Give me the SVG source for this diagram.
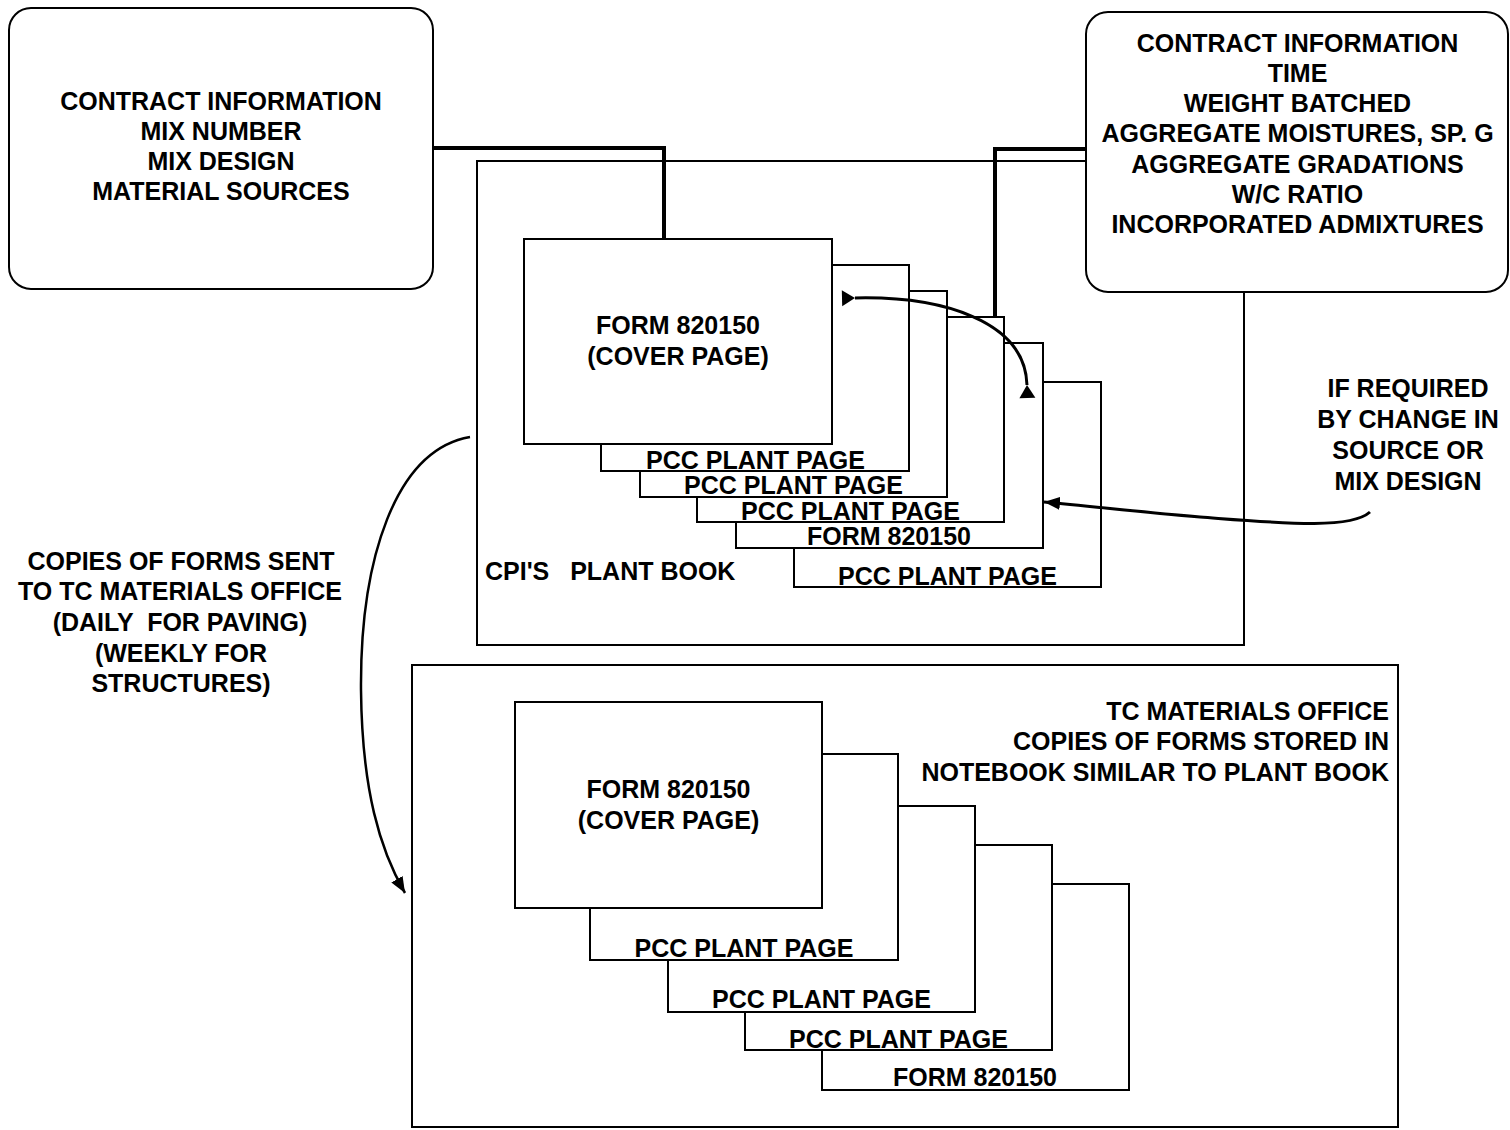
<svg xmlns="http://www.w3.org/2000/svg" width="1510" height="1130" viewBox="0 0 1510 1130">
  <style>
    .box { fill: #fff; stroke: #000; stroke-width: 2; }
    .frame { fill: none; stroke: #000; stroke-width: 2; }
    .page { fill: #fff; stroke: #000; stroke-width: 2; }
    .lbl { font-family: "Liberation Sans", Arial, Helvetica, sans-serif; font-weight: bold; font-size: 25px; fill: #000; }
    .c { text-anchor: middle; }
    .r { text-anchor: end; }
    .pre { white-space: pre; }
    .feed { fill: none; stroke: #000; stroke-width: 4; }
    .curve { fill: none; stroke: #000; stroke-width: 2.5; }
    .heavy { stroke-width: 3; }
  </style>
  <defs>
    <marker id="arrow" markerUnits="userSpaceOnUse" markerWidth="17" markerHeight="13" refX="16" refY="6.5" orient="auto">
      <path d="M0,0 L16,6.5 L0,13 Z" fill="#000"/>
    </marker>
    <!-- triangle whose base sits beyond the line end, apex on the line -->
    <marker id="tab" markerUnits="userSpaceOnUse" markerWidth="15" markerHeight="18" refX="0" refY="9" orient="auto-start-reverse">
      <path d="M0,9 L13,1 L13,17 Z" fill="#000"/>
    </marker>
  </defs>

  <rect width="1510" height="1130" fill="#fff"/>

  <!-- CPI's plant book -->
  <g id="plant-book">
    <rect class="frame" x="477" y="161" width="767" height="484"/>
    <text class="lbl pre" x="485" y="580">CPI'S   PLANT BOOK</text>
  </g>

  <!-- pages inside the plant book, back to front -->
  <g id="plant-page-6">
    <rect class="page" x="794" y="382" width="307" height="205"/>
    <text class="lbl c" x="947.5" y="585">PCC PLANT PAGE</text>
  </g>
  <g id="plant-page-5">
    <rect class="page" x="736" y="343" width="307" height="205"/>
    <text class="lbl c" x="889" y="545">FORM 820150</text>
  </g>
  <g id="plant-page-4">
    <rect class="page" x="697" y="317" width="307" height="205"/>
    <text class="lbl c" x="850.5" y="520">PCC PLANT PAGE</text>
  </g>
  <g id="plant-page-3">
    <rect class="page" x="640" y="291" width="307" height="206"/>
    <text class="lbl c" x="793.5" y="494">PCC PLANT PAGE</text>
  </g>
  <g id="plant-page-2">
    <rect class="page" x="601" y="265" width="308" height="206"/>
    <text class="lbl c" x="755.5" y="469">PCC PLANT PAGE</text>
  </g>
  <g id="plant-cover">
    <rect class="page" x="524" y="239" width="308" height="205"/>
    <text class="lbl c" x="678" y="334">FORM 820150</text>
    <text class="lbl c" x="678" y="365">(COVER PAGE)</text>
  </g>

  <!-- mix information -->
  <g id="mix-info">
    <rect class="box" x="9" y="8" width="424" height="281" rx="22"/>
    <text class="lbl c" x="221" y="110">CONTRACT INFORMATION</text>
    <text class="lbl c" x="221" y="140">MIX NUMBER</text>
    <text class="lbl c" x="221" y="170">MIX DESIGN</text>
    <text class="lbl c" x="221" y="200">MATERIAL SOURCES</text>
  </g>

  <!-- batch information -->
  <g id="batch-info">
    <rect class="box" x="1086" y="12" width="422" height="280" rx="22"/>
    <text class="lbl c" x="1297.5" y="52">CONTRACT INFORMATION</text>
    <text class="lbl c" x="1297.5" y="82">TIME</text>
    <text class="lbl c" x="1297.5" y="112">WEIGHT BATCHED</text>
    <text class="lbl c" x="1297.5" y="142">AGGREGATE MOISTURES, SP. G</text>
    <text class="lbl c" x="1297.5" y="173">AGGREGATE GRADATIONS</text>
    <text class="lbl c" x="1297.5" y="203">W/C RATIO</text>
    <text class="lbl c" x="1297.5" y="233">INCORPORATED ADMIXTURES</text>
  </g>

  <!-- change note -->
  <g id="change-note">
    <text class="lbl c" x="1408" y="397">IF REQUIRED</text>
    <text class="lbl c" x="1408" y="428">BY CHANGE IN</text>
    <text class="lbl c" x="1408" y="459">SOURCE OR</text>
    <text class="lbl c" x="1408" y="490">MIX DESIGN</text>
  </g>

  <!-- transmittal note -->
  <g id="copies-note">
    <text class="lbl c" x="181" y="570">COPIES OF FORMS SENT</text>
    <text class="lbl c" x="180" y="600">TO TC MATERIALS OFFICE</text>
    <text class="lbl c pre" x="180" y="631">(DAILY  FOR PAVING)</text>
    <text class="lbl c" x="181" y="662">(WEEKLY FOR</text>
    <text class="lbl c" x="181" y="692">STRUCTURES)</text>
  </g>

  <!-- TC materials office notebook -->
  <g id="tc-office">
    <rect class="frame" x="412" y="665" width="986" height="462"/>
    <text class="lbl r" x="1389" y="720">TC MATERIALS OFFICE</text>
    <text class="lbl r" x="1389" y="750">COPIES OF FORMS STORED IN</text>
    <text class="lbl r" x="1389" y="781">NOTEBOOK SIMILAR TO PLANT BOOK</text>
  </g>
  <g id="tc-page-5">
    <rect class="page" x="822" y="884" width="307" height="206"/>
    <text class="lbl c" x="975" y="1086">FORM 820150</text>
  </g>
  <g id="tc-page-4">
    <rect class="page" x="745" y="845" width="307" height="205"/>
    <text class="lbl c" x="898.5" y="1048">PCC PLANT PAGE</text>
  </g>
  <g id="tc-page-3">
    <rect class="page" x="668" y="806" width="307" height="206"/>
    <text class="lbl c" x="821.5" y="1008">PCC PLANT PAGE</text>
  </g>
  <g id="tc-page-2">
    <rect class="page" x="590" y="754" width="308" height="206"/>
    <text class="lbl c" x="744" y="957">PCC PLANT PAGE</text>
  </g>
  <g id="tc-cover">
    <rect class="page" x="515" y="702" width="307" height="206"/>
    <text class="lbl c" x="668.5" y="798">FORM 820150</text>
    <text class="lbl c" x="668.5" y="829">(COVER PAGE)</text>
  </g>

  <!-- connectors -->
  <g id="connectors">
    <polyline class="feed" points="433,148 664,148 664,239"/>
    <polyline class="feed" points="1086,149 995,149 995,317"/>
    <path class="curve heavy" d="M855,298 C940,296 1025,320 1027,385" marker-start="url(#tab)" marker-end="url(#tab)"/>
    <path class="curve heavy" d="M1370,512 C1350,530 1280,523 1200,517 C1140,512 1090,506 1044,502" marker-end="url(#arrow)"/>
    <path class="curve" d="M470,437 C395,450 360,560 361,690 C362,790 380,850 405,893" marker-end="url(#arrow)"/>
  </g>
</svg>
